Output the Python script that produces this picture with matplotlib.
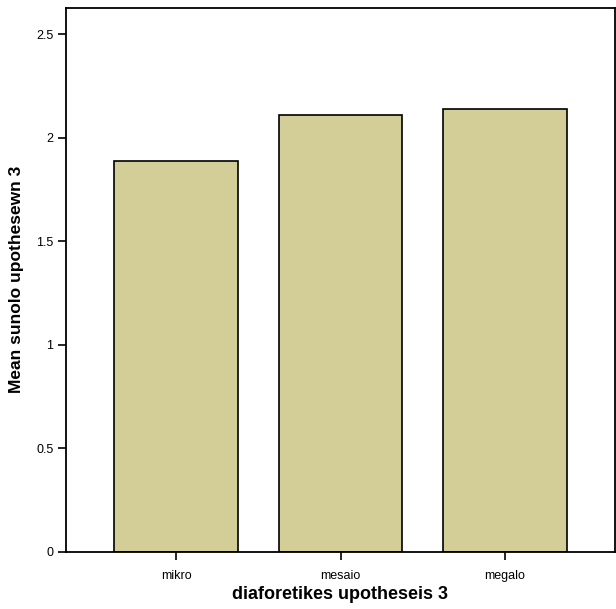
import matplotlib
matplotlib.use("Agg")
import matplotlib.pyplot as plt

categories = ["mikro", "mesaio", "megalo"]
means = [1.887, 2.109, 2.139]
yticks = [0, 0.5, 1, 1.5, 2, 2.5]
ytick_labels = ["0", "0.5", "1", "1.5", "2", "2.5"]

plt.rcParams['font.family'] = ['Liberation Sans', 'DejaVu Sans']

fig = plt.figure(figsize=(6.16, 6.09), dpi=100)
ax = fig.add_axes([66/616, 57/609, 549/616, 544.5/609])

x = list(range(len(categories)))
ax.bar(x, means, width=0.75, color="#D3CE98", edgecolor="black", linewidth=1.2)

ax.set_xlim(-0.67, 2.67)
ax.set_ylim(0, 2.628)
ax.set_xticks(x)
ax.set_xticklabels(categories, fontsize=9)
ax.set_yticks(yticks)
ax.set_yticklabels(ytick_labels, fontsize=9)
ax.tick_params(axis='both', direction='out', length=6, width=1.2, pad=3, colors='black')
ax.tick_params(axis='x', pad=7)
for s in ax.spines.values():
    s.set_linewidth(1.3)

ax.set_xlabel("diaforetikes upotheseis 3", fontsize=13, fontweight='bold', labelpad=3)
ax.set_ylabel("Mean sunolo upothesewn 3", fontsize=12.5, fontweight='bold', labelpad=9)

fig.savefig("out.png", dpi=100)
